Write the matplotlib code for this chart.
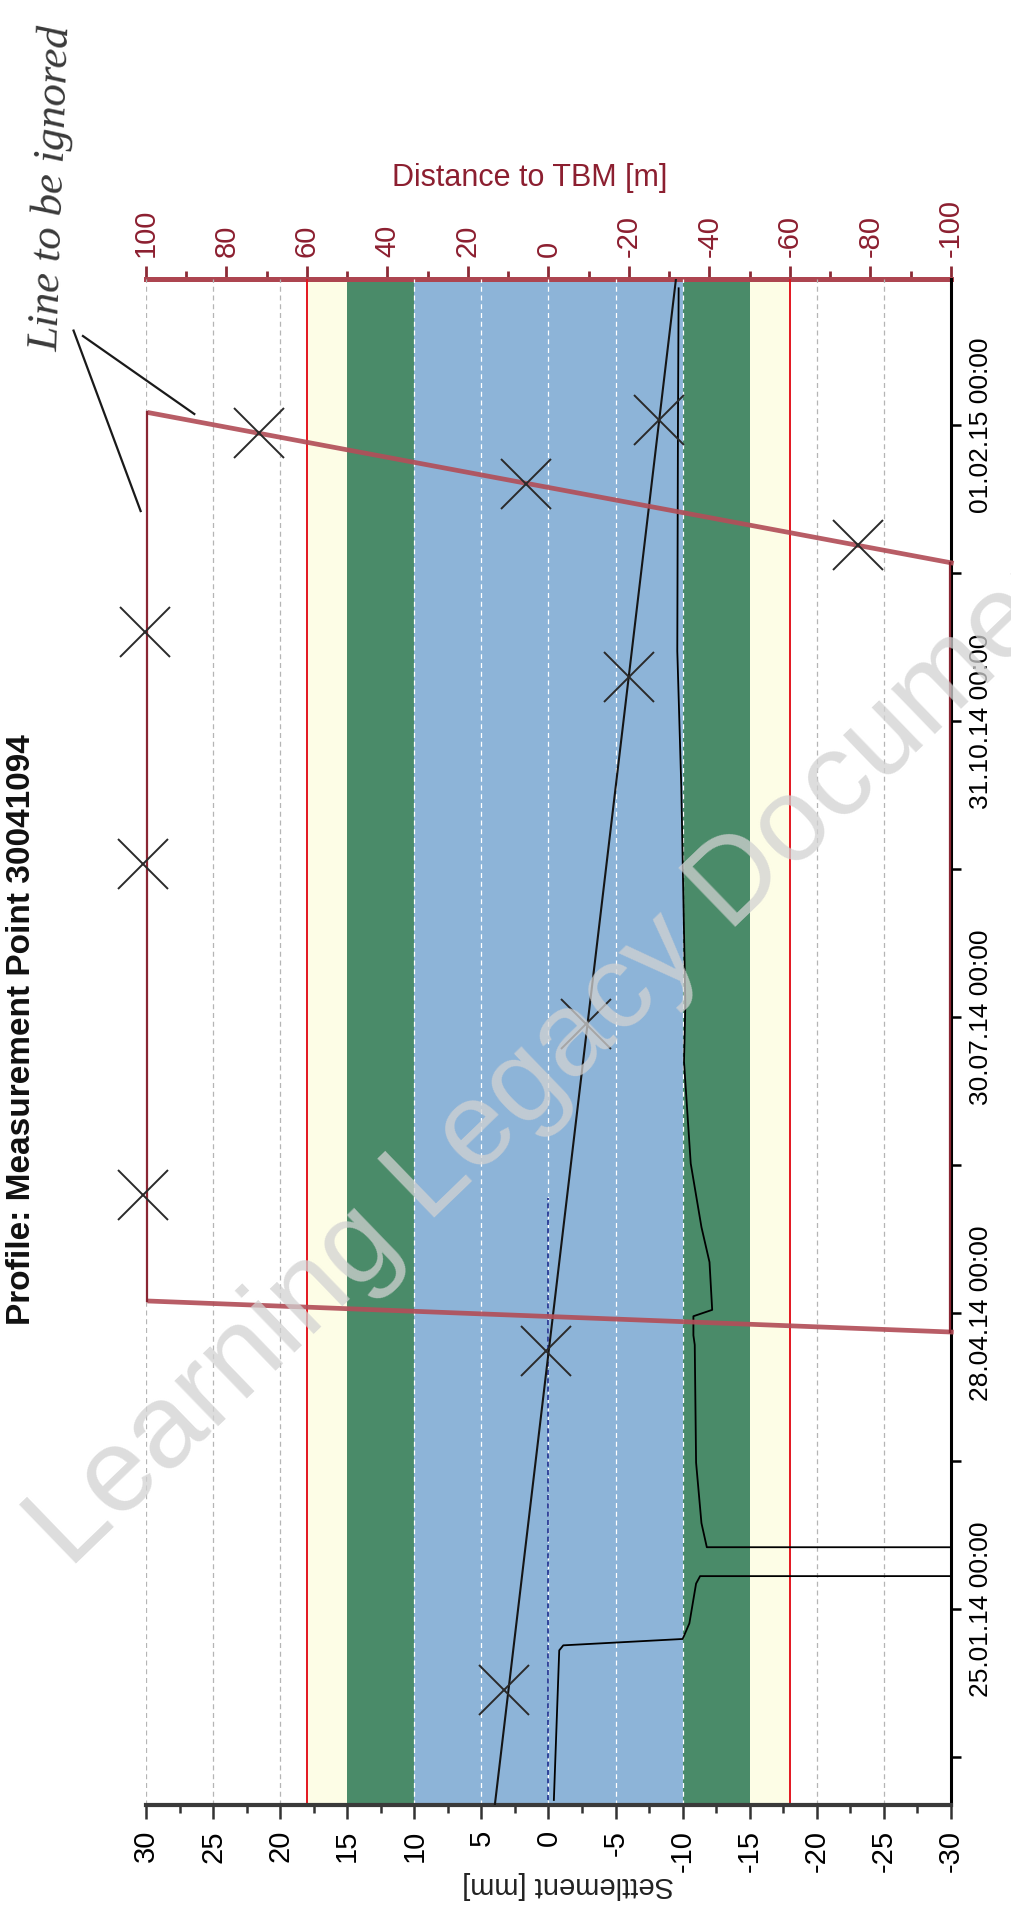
import matplotlib
matplotlib.use("Agg")
import matplotlib.pyplot as plt
from matplotlib.ticker import MultipleLocator, FixedLocator
from matplotlib import font_manager
import matplotlib.dates as mdates
import pandas as pd

# ---------------- data ----------------
settlement_dates = ["2013-11-26 00:00", "2014-01-12 00:00", "2014-01-13 14:00", "2014-01-15 14:00",
                    "2014-01-20 12:00", "2014-02-02 00:00", "2014-02-04 08:00", "2014-02-04 10:00",
                    "2014-02-13 08:00", "2014-02-13 10:00", "2014-02-21 00:00", "2014-03-12 00:00",
                    "2014-04-18 00:00", "2014-04-21 00:00", "2014-04-27 00:00", "2014-04-29 00:00",
                    "2014-05-14 00:00", "2014-05-25 00:00", "2014-06-14 00:00", "2014-07-16 00:00",
                    "2014-08-03 00:00", "2014-10-10 00:00", "2014-11-22 00:00", "2015-02-02 00:00",
                    "2015-03-16 00:00"]
settlement_values = [-0.4, -0.8, -1.1, -10.0, -10.5, -11.0, -11.3, -200.0, -200.0, -11.8, -11.4,
                     -11.0, -10.9, -10.8, -10.8, -12.2, -12.0, -11.4, -10.6, -10.1, -10.2, -9.9,
                     -9.6, -9.65, -9.7]

reference_dates = ["2013-11-26 00:00", "2014-06-03 00:00"]
reference_values = [0.0, 0.0]

# hand-drawn annotations on the print-out
trend_dates = ["2013-11-24 10:00", "2015-03-18 22:00"]
trend_values = [4.0, -9.5]

cross_dates = ["2015-01-29 14:00", "2015-01-13 14:00", "2015-02-02 14:00", "2014-12-25 05:00",
               "2014-11-27 22:00", "2014-11-14 00:00", "2014-09-16 00:00", "2014-07-27 17:00",
               "2014-06-04 05:00", "2014-04-15 22:00", "2013-12-30 17:00"]
cross_values = [21.6, 1.7, -8.2, -23.1, 30.1, -6.0, 30.2, -2.8, 30.2, 0.2, 3.3]

box_thick_dates = [["2015-02-05 00:00", "2014-12-19 14:00"], ["2014-04-22 00:00", "2014-05-01 19:00"]]
box_thick_values = [[29.9, -30.2], [-30.2, 29.9]]
box_thin_dates = [["2014-05-01 19:00", "2015-02-05 00:00"], ["2014-12-19 14:00", "2014-04-22 00:00"]]
box_thin_values = [[29.9, 29.9], [-29.9, -29.9]]

pointer_dates = [["2015-03-01 00:00", "2015-02-04 12:00"], ["2015-03-02 17:00", "2015-01-05 00:00"]]
pointer_values = [[34.7, 26.4], [35.4, 30.4]]

blue_band = (-10, 10)
green_bands = [(10, 15), (-15, -10)]
yellow_bands = [(15, 18), (-18, -15)]
limit_lines = [18, -18]

date_ticks = ["2014-01-25", "2014-04-28", "2014-07-30", "2014-10-31", "2015-02-01"]
date_range = ["2013-11-24 10:00", "2015-03-18 22:00"]
settlement_ticks = list(range(-30, 31, 5))
distance_ticks = list(range(-100, 101, 20))
grid_values = [30, 25, 20, 10, 5, 0, -5, -10, -20, -25]

title = "Profile: Measurement Point 30041094"

# ---------------- fonts ----------------
avail = {f.name for f in font_manager.fontManager.ttflist}
def pick(*names):
    for n in names:
        if n in avail:
            return n
    return "DejaVu Sans"
NARROW = pick("Liberation Sans Narrow", "Liberation Sans", "Arial")
SANS = pick("Liberation Sans", "Arial")
plt.rcParams["font.family"] = [NARROW, "DejaVu Sans"]
plt.rcParams["axes.unicode_minus"] = False

td = lambda lst: pd.to_datetime(lst)

# ---------------- figure ----------------
W, H = 1012, 1910
fig = plt.figure(figsize=(W / 100, H / 100), dpi=100)
fig.patch.set_facecolor("white")
ax = fig.add_axes([146 / W, 1 - 1805 / H, 805 / W, 1526 / H])

ax.set_xlim(30, -30)
ax.set_ylim(td(date_range)[0], td(date_range)[1])

# bands
ax.axvspan(blue_band[0], blue_band[1], color="#8db4d8", zorder=0, lw=0)
for a, b in green_bands:
    ax.axvspan(a, b, color="#4a8b69", zorder=0, lw=0)
for a, b in yellow_bands:
    ax.axvspan(a, b, color="#fdfde6", zorder=0, lw=0)
for s in grid_values:
    col = "white" if abs(s) <= 10 else "#b5b5b5"
    ax.axvline(s, color=col, lw=0.9, ls=(0, (4, 3)), zorder=1)
for s in limit_lines:
    ax.axvline(s, color="#e3161f", lw=1.4, zorder=2)

# data series
ax.plot(reference_values, td(reference_dates), color="#1f2f8f", lw=1.2, ls=(0, (3, 2)), zorder=3)
ax.plot(settlement_values, td(settlement_dates), color="black", lw=1.3, zorder=4)

# hand-drawn annotations
ax.plot(trend_values, td(trend_dates), color="#151515", lw=1.5, zorder=5)
ax.plot(cross_values, td(cross_dates), ls="none", marker="x", ms=36, mew=1.4,
        color="#2a2a2a", zorder=6, clip_on=False)
for d, v in zip(box_thick_dates, box_thick_values):
    ax.plot(v, td(d), color="#b24f59", lw=3.4, alpha=0.92, zorder=5, clip_on=False,
            solid_capstyle="butt")
for d, v in zip(box_thin_dates, box_thin_values):
    ax.plot(v, td(d), color="#8a2633", lw=1.6, zorder=5, clip_on=False)
for d, v in zip(pointer_dates, pointer_values):
    ax.plot(v, td(d), color="#1a1a1a", lw=1.6, zorder=6, clip_on=False)

# spines
ax.spines["left"].set_visible(False)
ax.spines["top"].set_visible(False)
ax.spines["right"].set_color("black")
ax.spines["right"].set_linewidth(2.2)
ax.spines["bottom"].set_color("#3a3a3a")
ax.spines["bottom"].set_linewidth(3.0)

# settlement axis (bottom)
ax.xaxis.set_major_locator(FixedLocator(settlement_ticks))
ax.xaxis.set_minor_locator(MultipleLocator(2.5))
ax.tick_params(axis="x", which="major", direction="out", length=10, width=1.8,
               color="#333333", labelsize=21, pad=8, labelrotation=90)
ax.tick_params(axis="x", which="minor", direction="out", length=5.5, width=1.8, color="#333333")

# date axis (right)
ax.yaxis.tick_right()
ax.yaxis.set_major_locator(FixedLocator(mdates.date2num(td(date_ticks))))
minor = td(date_ticks[:-1]) + (td(date_ticks[1:]) - td(date_ticks[:-1])) / 2
minor = list(minor) + [td(date_ticks)[0] - (td(date_ticks)[1] - td(date_ticks)[0]) / 2,
                       td(date_ticks)[-1] + (td(date_ticks)[1] - td(date_ticks)[0]) / 2]
ax.yaxis.set_minor_locator(FixedLocator(mdates.date2num(pd.DatetimeIndex(minor))))
ax.yaxis.set_major_formatter(mdates.DateFormatter("%d.%m.%y %H:%M"))
ax.tick_params(axis="y", which="both", direction="out", length=7, width=1.8, color="black",
               labelsize=19, pad=6)
for lab in ax.get_yticklabels():
    lab.set_rotation(90)
    lab.set_va("center")
    lab.set_ha("left")
    lab.set_fontfamily([SANS, "DejaVu Sans"])

# distance axis (top)
sec = ax.secondary_xaxis("top", functions=(lambda s: s * 10 / 3, lambda d: d * 0.3))
sec.set_xticks(distance_ticks)
sec.xaxis.set_minor_locator(MultipleLocator(10))
sec.tick_params(which="major", direction="out", length=9.5, width=2.0, color="#8c2a35",
                labelcolor="#8c1f30", labelsize=21, pad=6, labelrotation=90)
sec.tick_params(which="minor", direction="out", length=5.5, width=2.0, color="#8c2a35")
sec.spines["top"].set_color("#ad4550")
sec.spines["top"].set_linewidth(3.6)

# texts
fig.text(530 / W, 1 - 178 / H, "Distance to TBM [m]", color="#8c1f30", fontsize=22,
         ha="center", va="center")
fig.text(568 / W, 1 - 1885 / H, "Settlement [mm]", color="#222222", fontsize=21,
         ha="center", va="center", rotation=180)
fig.text(22 / W, 1 - 1030 / H, title, fontsize=24, fontweight="bold",
         family=[SANS, "DejaVu Sans"], rotation=90, ha="center", va="center", color="#111111")
fig.text(52 / W, 1 - 188 / H, "Line to be ignored", fontsize=32, style="italic",
         family=["Liberation Serif", "DejaVu Serif"], rotation=88, ha="center", va="center",
         color="#3a3a3a")
fig.text(70 / W, 1 - 1570 / H, "Learning Legacy Document", fontsize=86,
         family=[SANS, "DejaVu Sans"], rotation=44, rotation_mode="anchor",
         ha="left", va="baseline", color="#d2d2d2", alpha=0.75, zorder=20)

fig.savefig("out.png", dpi=100, facecolor="white")
